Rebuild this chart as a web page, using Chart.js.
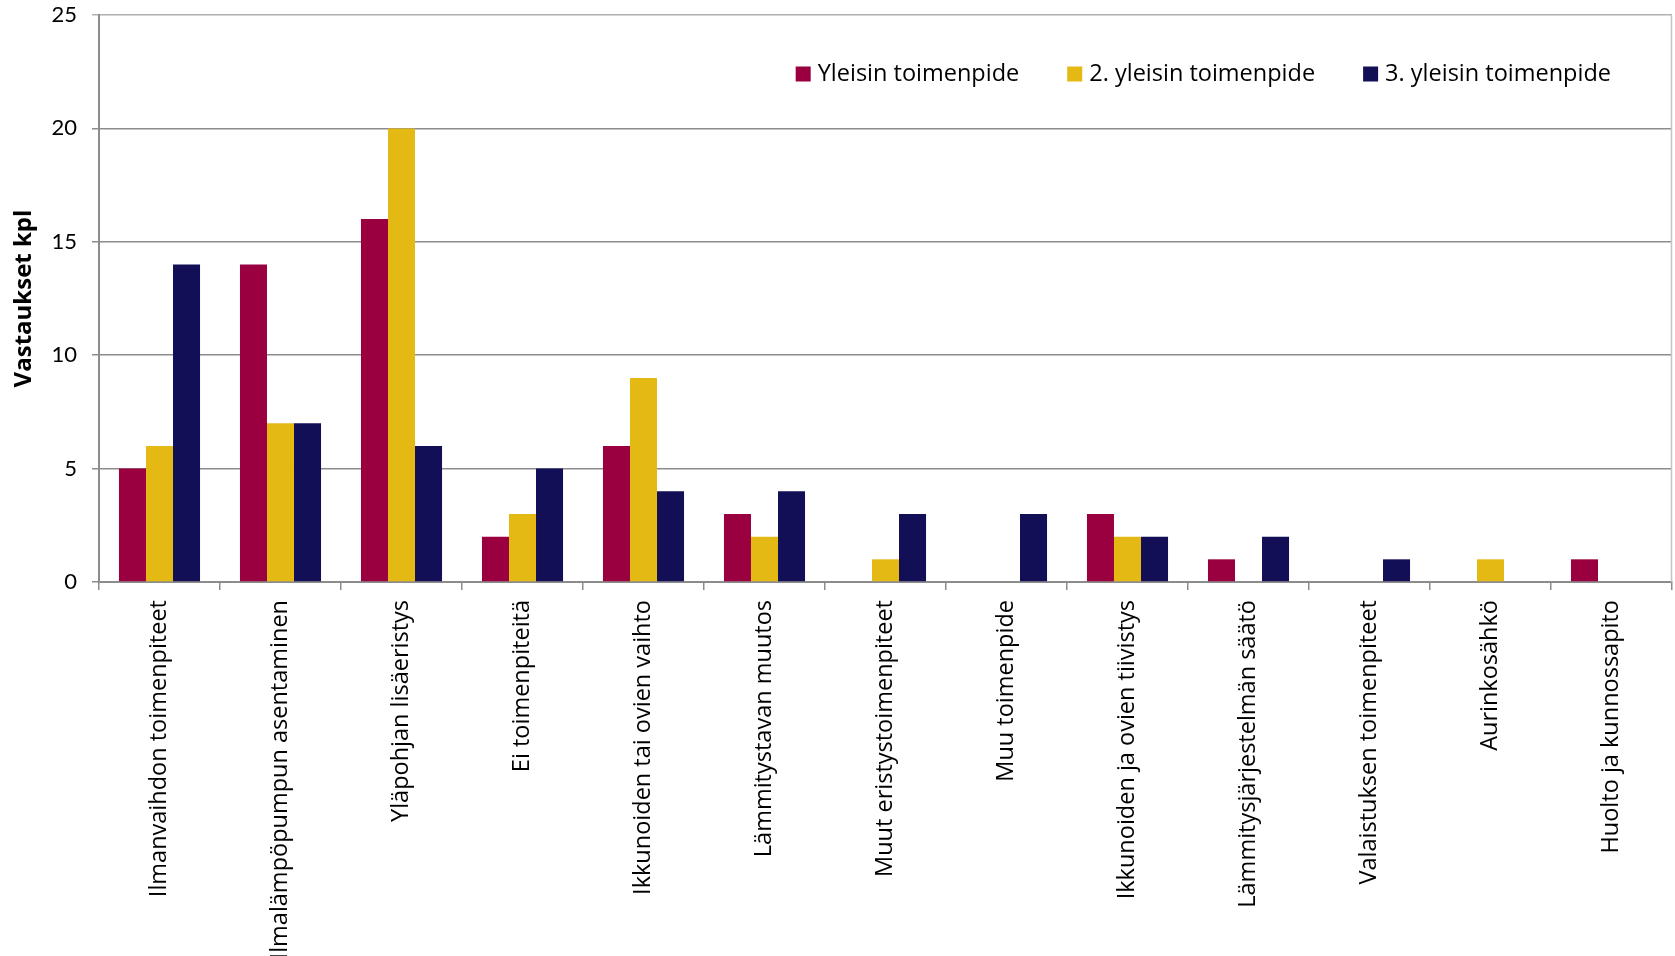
<!DOCTYPE html>
<html>
<head>
<meta charset="utf-8">
<script src="https://cdn.jsdelivr.net/npm/chart.js@4.4.1/dist/chart.umd.min.js"></script>
<style>
  html, body { margin: 0; padding: 0; background: #ffffff; }
  #wrap { width: 1675px; height: 956px; position: relative; }
</style>
</head>
<body>
<div id="wrap"><canvas id="c"></canvas></div>
<script>
const categories = [
  "Ilmanvaihdon toimenpiteet",
  "Ilmalämpöpumpun asentaminen",
  "Yläpohjan lisäeristys",
  "Ei toimenpiteitä",
  "Ikkunoiden tai ovien vaihto",
  "Lämmitystavan muutos",
  "Muut eristystoimenpiteet",
  "Muu toimenpide",
  "Ikkunoiden ja ovien tiivistys",
  "Lämmitysjärjestelmän säätö",
  "Valaistuksen toimenpiteet",
  "Aurinkosähkö",
  "Huolto ja kunnossapito"
];
const seriesNames = ["Yleisin toimenpide", "2. yleisin toimenpide", "3. yleisin toimenpide"];
const yleisin  = [5, 14, 16, 2, 6, 3, 0, 0, 3, 1, 0, 0, 1];
const yleisin2 = [6, 7, 20, 3, 9, 2, 1, 0, 2, 0, 0, 1, 0];
const yleisin3 = [14, 7, 6, 5, 4, 4, 3, 3, 2, 2, 1, 0, 0];
const yTicks = [0, 5, 10, 15, 20, 25];
const yTitle = "Vastaukset kpl";
const colors = ["#9A003F", "#E4B914", "#130F56"];

const legendPlugin = {
  id: 'insideLegend',
  afterDraw(chart) {
    const ctx = chart.ctx;
    const area = chart.chartArea;
    ctx.save();
    ctx.font = '23.5px "Open Sans", sans-serif';
    ctx.textBaseline = 'middle';
    ctx.textAlign = 'left';
    const box = 15, gapBox = 7, gapItem = 48;
    const items = chart.data.datasets.map(ds => ({label: ds.label, color: ds.backgroundColor, w: ctx.measureText(ds.label).width}));
    let total = 0;
    items.forEach((it, i) => { total += box + gapBox + it.w + (i < items.length - 1 ? gapItem : 0); });
    let x = area.right - 61 - total;
    const y = area.top + 59;
    items.forEach(it => {
      ctx.fillStyle = it.color;
      ctx.fillRect(x, y - box / 2, box, box);
      x += box + gapBox;
      ctx.fillStyle = '#000000';
      ctx.fillText(it.label, x, y);
      x += it.w + gapItem;
    });
    // right border of plot area
    ctx.strokeStyle = '#C4C4C4';
    ctx.lineWidth = 1.5;
    ctx.beginPath();
    ctx.moveTo(area.right - 0.5, area.top);
    ctx.lineTo(area.right - 0.5, area.bottom);
    ctx.stroke();
    ctx.restore();
  }
};

new Chart(document.getElementById('c'), {
  type: 'bar',
  data: {
    labels: categories,
    datasets: [
      { label: seriesNames[0], data: yleisin,  backgroundColor: colors[0] },
      { label: seriesNames[1], data: yleisin2, backgroundColor: colors[1] },
      { label: seriesNames[2], data: yleisin3, backgroundColor: colors[2] }
    ]
  },
  options: {
    responsive: true,
    maintainAspectRatio: false,
    animation: false,
    layout: { padding: { top: 15, right: 3, left: 0, bottom: 0 } },
    datasets: { bar: { categoryPercentage: 0.67, barPercentage: 1.0, borderWidth: 0 } },
    plugins: {
      legend: { display: false },
      tooltip: { enabled: false }
    },
    scales: {
      x: {
        grid: { offset: true, drawOnChartArea: false, drawTicks: true, tickLength: 8, color: '#8C8C8C', lineWidth: 1.5 },
        border: { display: true, color: '#8C8C8C', width: 2 },
        ticks: {
          autoSkip: false, maxRotation: 90, minRotation: 90, padding: 10,
          color: '#000000',
          font: { family: '"Open Sans", sans-serif', size: 23.5 }
        },
        afterFit(scale) { scale.height = 374; scale.paddingLeft = 0; scale.paddingRight = 0; }
      },
      y: {
        min: 0, max: 25,
        afterBuildTicks(scale) { scale.ticks = yTicks.map(v => ({ value: v })); },
        grid: {
          color: ctx => (ctx.tick && ctx.tick.value === 25 ? '#B0B0B0' : '#8C8C8C'),
          lineWidth: 1.5, tickLength: 7, drawTicks: true
        },
        border: { display: true, color: '#8C8C8C', width: 2 },
        ticks: {
          padding: 15, color: '#000000',
          font: { family: 'Lato, "Open Sans", sans-serif', size: 22 }
        },
        title: {
          display: true, text: yTitle, color: '#000000',
          font: { family: '"Open Sans", sans-serif', size: 24, weight: 'bold' },
          padding: { top: 10, bottom: 6 }
        },
        afterFit(scale) { scale.width = 99; scale.paddingTop = 0; scale.paddingBottom = 0; }
      }
    }
  },
  plugins: [legendPlugin]
});
</script>
</body>
</html>
